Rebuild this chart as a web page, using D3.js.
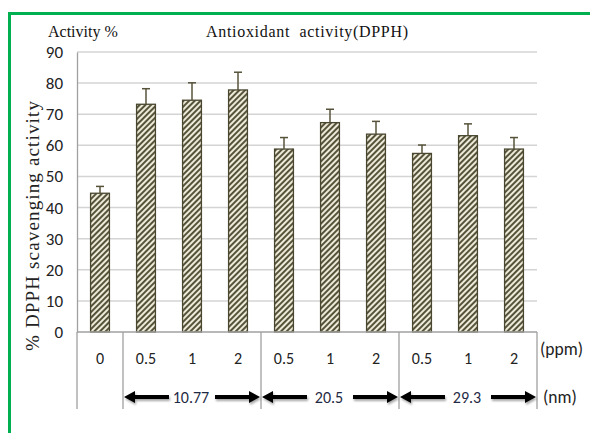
<!DOCTYPE html>
<html>
<head>
<meta charset="utf-8">
<script src="https://cdn.jsdelivr.net/npm/d3@7/dist/d3.min.js"></script>
<style>
  body { margin: 0; background: #fff; }
</style>
</head>
<body>
<svg width="590" height="433"></svg>
<script>
// data
var ppmLabels = ["0", "0.5", "1", "2", "0.5", "1", "2", "0.5", "1", "2"];
var activity = [44.6, 73.2, 74.5, 77.8, 58.8, 67.3, 63.6, 57.4, 63.1, 58.8];
var errUp = [2.2, 5.0, 5.6, 5.7, 3.7, 4.3, 4.1, 2.7, 3.8, 3.7];
var sizeLabels = ["10.77", "20.5", "29.3"];
var sizeFirst = [1, 4, 7];
var sizeLast = [3, 6, 9];
var yTicks = [0, 10, 20, 30, 40, 50, 60, 70, 80, 90];

var svg = d3.select("svg");
var plotL = 77, plotR = 537, plotT = 52, plotB = 332, tableB = 409;
var sansFont = "Carlito, 'Liberation Sans', sans-serif";
var serifFont = "'Liberation Serif', 'DejaVu Serif', serif";

// green frame
svg.append("path")
    .attr("d", "M9.5,433 V13.5 H590")
    .attr("fill", "none")
    .attr("stroke", "#00b050")
    .attr("stroke-width", 3);

var defs = svg.append("defs");
var pat = defs.append("pattern")
    .attr("id", "hatch")
    .attr("patternUnits", "userSpaceOnUse")
    .attr("width", 4).attr("height", 4)
    .attr("patternTransform", "rotate(45)");
pat.append("rect").attr("width", 4).attr("height", 4).attr("fill", "#ecead8");
pat.append("rect").attr("width", 2).attr("height", 4).attr("fill", "#57533a");

var filt = defs.append("filter").attr("id", "shadow")
    .attr("filterUnits", "userSpaceOnUse")
    .attr("x", 0).attr("y", 370).attr("width", 590).attr("height", 50);
filt.append("feDropShadow").attr("dx", 1).attr("dy", 2).attr("stdDeviation", 1.2)
    .attr("flood-color", "#000").attr("flood-opacity", 0.35);

var x = d3.scaleBand()
    .domain(d3.range(ppmLabels.length))
    .range([plotL, plotR])
    .paddingInner(0.59)
    .paddingOuter(0.295);

var y = d3.scaleLinear().domain([0, 90]).range([plotB, plotT]);

// grid
svg.append("g").selectAll("line")
    .data(yTicks.slice(1))
    .enter().append("line")
    .attr("x1", plotL).attr("x2", plotR)
    .attr("y1", function(d) { return y(d); })
    .attr("y2", function(d) { return y(d); })
    .attr("stroke", "#d4d4d4")
    .attr("stroke-width", 1.5);

// y axis
var yAxis = svg.append("g")
    .attr("transform", "translate(" + plotL + ",0)")
    .call(d3.axisLeft(y).tickValues(yTicks).tickSize(0).tickPadding(14));
yAxis.select(".domain").attr("stroke", "#a0a0a0").attr("stroke-width", 1.3);
yAxis.selectAll("text")
    .attr("font-family", sansFont)
    .attr("font-size", 17)
    .attr("fill", "#222");

// bars
var step = x.step();
svg.append("g").selectAll("rect")
    .data(activity)
    .enter().append("rect")
    .attr("x", function(d, i) { return x(i); })
    .attr("y", function(d) { return y(d); })
    .attr("width", x.bandwidth())
    .attr("height", function(d) { return y(0) - y(d); })
    .attr("fill", "url(#hatch)")
    .attr("stroke", "#4a4730")
    .attr("stroke-width", 1.3);

// error bars (upper only)
var eb = svg.append("g").attr("stroke", "#57533a").attr("stroke-width", 1.5);
activity.forEach(function(v, i) {
    var cx = x(i) + x.bandwidth() / 2;
    eb.append("line").attr("x1", cx).attr("x2", cx)
        .attr("y1", y(v)).attr("y2", y(v + errUp[i]));
    eb.append("line").attr("x1", cx - 4).attr("x2", cx + 4)
        .attr("y1", y(v + errUp[i])).attr("y2", y(v + errUp[i]));
});

// category table
var tbl = svg.append("g").attr("stroke", "#a0a0a0").attr("stroke-width", 1.3);
tbl.append("line").attr("x1", plotL).attr("x2", plotR)
    .attr("y1", plotB).attr("y2", plotB);
var seps = [0].concat(sizeFirst).concat([ppmLabels.length]);
seps.forEach(function(i) {
    var xx = plotL + i * step;
    tbl.append("line").attr("x1", xx).attr("x2", xx)
        .attr("y1", plotB).attr("y2", tableB);
});

svg.append("g").selectAll("text")
    .data(ppmLabels)
    .enter().append("text")
    .attr("x", function(d, i) { return x(i) + x.bandwidth() / 2; })
    .attr("y", 364)
    .attr("text-anchor", "middle")
    .attr("font-family", sansFont)
    .attr("font-size", 16)
    .attr("fill", "#222")
    .text(function(d) { return d; });

// double arrows for particle size
var ay = 397;
function arrowPath(xs, xe) {
    var dir = xe > xs ? 1 : -1;
    var hb = xe - dir * 11;
    return "M" + xs + "," + (ay - 2) + "H" + hb + "V" + (ay - 6) +
        "L" + xe + "," + ay + "L" + hb + "," + (ay + 6) + "V" + (ay + 2) +
        "H" + xs + "Z";
}
var arrows = svg.append("g");
sizeLabels.forEach(function(lab, k) {
    var x0 = plotL + sizeFirst[k] * step + 1;
    var x1 = plotL + (sizeLast[k] + 1) * step - 1;
    var mid = (x0 + x1) / 2;
    var g = arrows.append("g").attr("filter", "url(#shadow)").attr("fill", "#000");
    g.append("path").attr("d", arrowPath(mid - 23, x0));
    g.append("path").attr("d", arrowPath(mid + 23, x1));
    arrows.append("text")
        .attr("x", mid - 1).attr("y", 403)
        .attr("text-anchor", "middle")
        .attr("font-family", sansFont)
        .attr("font-size", 16)
        .attr("fill", "#1f2a44")
        .text(lab);
});

// unit labels
svg.append("text").attr("x", 540).attr("y", 355)
    .attr("font-family", sansFont)
    .attr("font-size", 17.5).attr("fill", "#222").text("(ppm)");
svg.append("text").attr("x", 543).attr("y", 403)
    .attr("font-family", sansFont)
    .attr("font-size", 17.5).attr("fill", "#222").text("(nm)");

// titles
svg.append("text").attr("x", 48).attr("y", 37)
    .attr("font-family", serifFont)
    .attr("font-size", 16).attr("fill", "#111").text("Activity %");
svg.append("text").attr("x", 206).attr("y", 37)
    .attr("font-family", serifFont)
    .attr("font-size", 16).attr("fill", "#111")
    .attr("xml:space", "preserve")
    .attr("textLength", 202)
    .attr("lengthAdjust", "spacing")
    .text("Antioxidant  activity(DPPH)");

// y axis title
svg.append("text")
    .attr("transform", "translate(39,226) rotate(-90)")
    .attr("text-anchor", "middle")
    .attr("font-family", serifFont)
    .attr("font-size", 19).attr("fill", "#222")
    .attr("textLength", 250)
    .attr("lengthAdjust", "spacing")
    .text("% DPPH scavenging activity");
</script>
</body>
</html>
